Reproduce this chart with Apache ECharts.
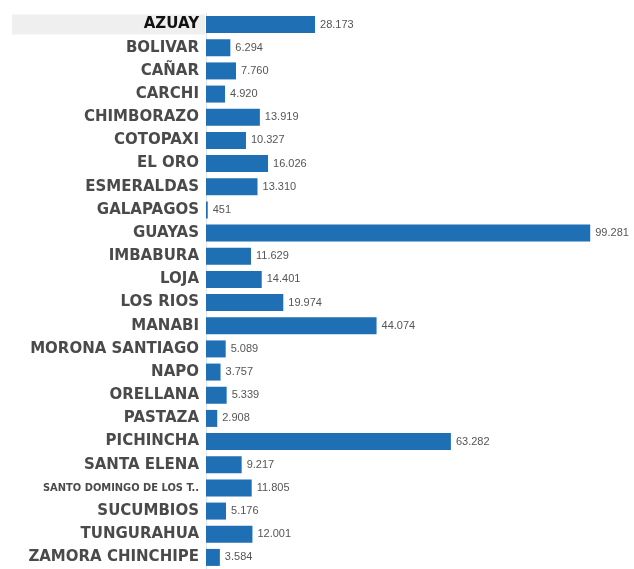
<!DOCTYPE html>
<html>
<head>
<meta charset="utf-8">
<script src="https://cdn.jsdelivr.net/npm/echarts@6/dist/echarts.min.js"></script>
<style>
  html, body { margin: 0; padding: 0; background: #fff; }
  #chart { width: 634px; height: 569px; }
</style>
</head>
<body>
<div id="chart"></div>
<script>
const provinces = [
  "AZUAY", "BOLIVAR", "CAÑAR", "CARCHI", "CHIMBORAZO", "COTOPAXI", "EL ORO",
  "ESMERALDAS", "GALAPAGOS", "GUAYAS", "IMBABURA", "LOJA", "LOS RIOS", "MANABI",
  "MORONA SANTIAGO", "NAPO", "ORELLANA", "PASTAZA", "PICHINCHA", "SANTA ELENA",
  "SANTO DOMINGO DE LOS T..", "SUCUMBIOS", "TUNGURAHUA", "ZAMORA CHINCHIPE"
];
const values = [
  28173, 6294, 7760, 4920, 13919, 10327, 16026,
  13310, 451, 99281, 11629, 14401, 19974, 44074,
  5089, 3757, 5339, 2908, 63282, 9217,
  11805, 5176, 12001, 3584
];
const highlighted = "AZUAY";
const narrowLabel = "SANTO DOMINGO DE LOS T..";

// 12345 -> "12.345"
function fmt(v) {
  return String(v).replace(/\B(?=(\d{3})+(?!\d))/g, ".");
}

const chart = echarts.init(document.getElementById("chart"), null, { renderer: "canvas" });

chart.setOption({
  animation: false,
  grid: { left: 206, top: 13, height: 560, width: 387, containLabel: false },
  xAxis: {
    type: "value",
    min: 0,
    max: 100000,
    show: false
  },
  yAxis: {
    type: "category",
    data: provinces,
    inverse: true,
    axisTick: { show: false },
    axisLine: { show: true, lineStyle: { color: "#dde3ea", width: 1 } },
    axisLabel: {
      margin: 1,
      formatter: (name) => {
        if (name === highlighted) return "{hl|" + name + "}";
        if (name === narrowLabel) return "{nr|" + name + "}";
        return "{n|" + name + "}";
      },
      rich: {
        hl: {
          fontFamily: "DejaVu Sans",
          fontWeight: "bold",
          fontSize: 15,
          color: "#111",
          backgroundColor: "#efefef",
          width: 187,
          height: 20,
          align: "right",
          padding: [0, 6, 0, 0]
        },
        n: {
          fontFamily: "DejaVu Sans",
          fontWeight: "bold",
          fontSize: 15,
          color: "#4a4a4a",
          padding: [0, 6, 0, 0]
        },
        nr: {
          fontFamily: "DejaVu Sans Condensed, DejaVu Sans",
          fontWeight: "bold",
          fontSize: 11,
          color: "#4a4a4a",
          padding: [0, 6, 0, 0]
        }
      }
    }
  },
  series: [
    {
      type: "bar",
      data: values,
      barWidth: 17,
      itemStyle: { color: "#1f6fb5" },
      label: {
        show: true,
        position: "right",
        distance: 5,
        formatter: (p) => fmt(p.value),
        fontFamily: "Liberation Sans",
        fontSize: 11,
        color: "#555"
      }
    }
  ]
});
</script>
</body>
</html>
